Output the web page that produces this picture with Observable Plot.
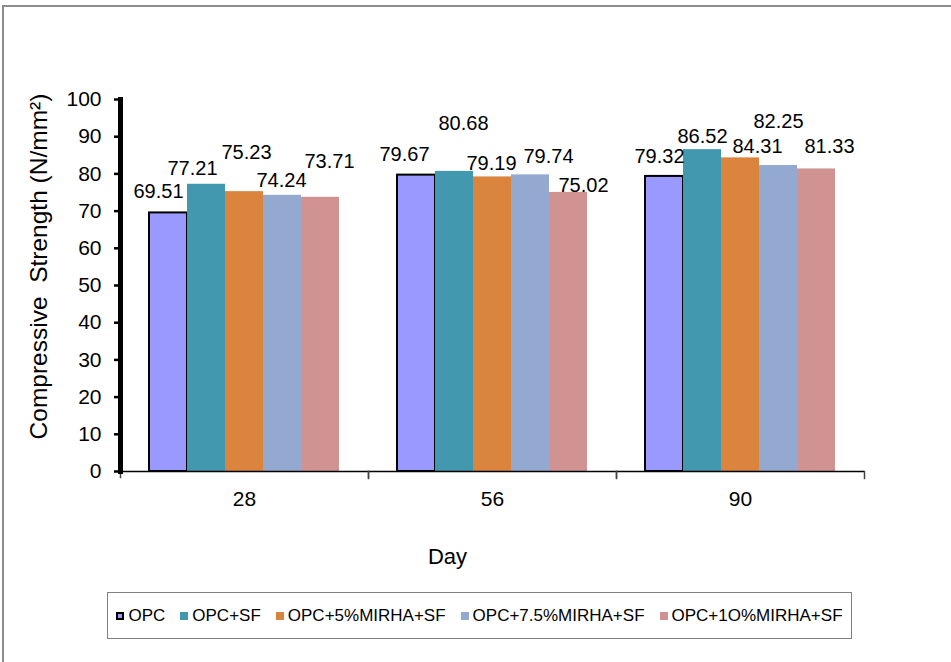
<!DOCTYPE html>
<html>
<head>
<meta charset="utf-8">
<script src="https://cdn.jsdelivr.net/npm/d3@7"></script>
<script src="https://cdn.jsdelivr.net/npm/@observablehq/plot@0.6"></script>
<style>
  body { margin: 0; background: #fff; font-family: "Liberation Sans", Arial, sans-serif; }
  #page { position: relative; width: 951px; height: 662px; overflow: hidden; background: #fff; }
  #border { position: absolute; left: 2px; top: 5px; width: 970px; height: 700px; border: 2px solid #8c8c8c; box-sizing: border-box; }
  #chart { position: absolute; left: 0; top: 0; }
  #legend { position: absolute; left: 107px; top: 592px; width: 745px; height: 47px; border: 1px solid #808080; box-sizing: border-box;
            display: flex; align-items: center; justify-content: center; gap: 15px; font-size: 17px; color: #000; background: #fff; }
  .item { display: flex; align-items: center; gap: 4px; white-space: nowrap; }
  .sw { width: 8px; height: 8px; box-sizing: border-box; }
</style>
</head>
<body>
<div id="page">
  <div id="border"></div>
  <div id="chart"></div>
  <div id="legend"></div>
</div>
<script>
// ---- data ----
const days = ["28", "56", "90"];
const series = ["OPC", "OPC+SF", "OPC+5%MIRHA+SF", "OPC+7.5%MIRHA+SF", "OPC+1O%MIRHA+SF"];
const opc     = [69.51, 79.67, 79.32];
const opcSF   = [77.21, 80.68, 86.52];
const mirha5  = [75.23, 79.19, 84.31];
const mirha75 = [74.24, 79.74, 82.25];
const mirha10 = [73.71, 75.02, 81.33];
const yTicks = [0, 10, 20, 30, 40, 50, 60, 70, 80, 90, 100];
const xTitle = "Day";
const yTitle = "Compressive\u00a0\u00a0Strength (N/mm²)";

// ---- style / layout ----
const colors = ["#9999ff", "#4198af", "#db843d", "#93a9cf", "#d19392"];
// per-label nudges (pixels) imitating the original label placement: [day][series]
const labelDx  = [[-10, -14, 2, -1, 9], [-12, 9, -1, 18, 15], [-5, 0, 17, 0, 13]];
const labelGap = [[15, 9, 33, 8, 29], [14, 41, 7, 12, 0], [13, 7, 5, 38, 16]];

const valuesBySeries = [opc, opcSF, mirha5, mirha75, mirha10];
const rows = [];
days.forEach((d, di) => series.forEach((s, si) => rows.push({day: d, series: s, value: valuesBySeries[si][di], di, si})));

const W = 951, H = 580, mT = 99, mB = 109, mL = 120, mR = 87;
const innerH = H - mT - mB;

const labelMarks = rows.map(r =>
  Plot.text([r], {fx: "day", x: "series", y: "value", text: d => d.value.toFixed(2),
    lineAnchor: "bottom", fontSize: 20, dx: labelDx[r.di][r.si], dy: -labelGap[r.di][r.si]})
);

const chart = Plot.plot({
  width: W, height: H,
  marginTop: mT, marginBottom: mB, marginLeft: mL, marginRight: mR,
  style: {fontFamily: "Liberation Sans, Arial, sans-serif", fontSize: "20px", background: "transparent", color: "#000"},
  fx: {domain: days, padding: 0},
  x: {domain: series, axis: null, paddingInner: 0, paddingOuter: 0.73},
  y: {domain: [0, 100]},
  color: {domain: series, range: colors},
  marks: [
    Plot.barY(rows, {fx: "day", x: "series", y: "value", fill: "series",
      stroke: d => d.series === "OPC" ? "#000" : "none", strokeWidth: 2}),
    Plot.ruleY([0], {stroke: "#000", strokeWidth: 1.5}),
    Plot.frame({anchor: "left", insetTop: innerH, insetBottom: -6, stroke: "#444", strokeWidth: 1.5}),
    Plot.frame({anchor: "right", insetTop: innerH, insetBottom: -7, stroke: "#444", strokeWidth: 1.5}),
    Plot.frame({anchor: "left", facetAnchor: "left", stroke: "#000", strokeWidth: 5}),
    Plot.axisY({ticks: yTicks, tickSize: 6, tickPadding: 13, strokeWidth: 2.5, fontSize: 21, label: null}),
    Plot.axisFx({anchor: "bottom", tickSize: 0, tickPadding: 20, fontSize: 21, label: null}),
    ...labelMarks,
    Plot.text([{day: days[1]}], {fx: "day", text: () => xTitle, frameAnchor: "bottom",
      lineAnchor: "bottom", textAnchor: "middle", fontSize: 22, dx: -45, dy: 92}),
    Plot.text([{day: days[0]}], {fx: "day", text: () => yTitle, frameAnchor: "left",
      textAnchor: "middle", lineAnchor: "middle", rotate: -90, fontSize: 24.5, dx: -81, dy: -19})
  ]
});
document.getElementById("chart").appendChild(chart);

// ---- legend ----
const legend = document.getElementById("legend");
series.forEach((s, i) => {
  const item = document.createElement("div");
  item.className = "item";
  const sw = document.createElement("span");
  sw.className = "sw";
  sw.style.background = colors[i];
  if (i === 0) sw.style.border = "2px solid #000";
  const t = document.createElement("span");
  t.textContent = s;
  item.appendChild(sw);
  item.appendChild(t);
  legend.appendChild(item);
});
</script>
</body>
</html>
